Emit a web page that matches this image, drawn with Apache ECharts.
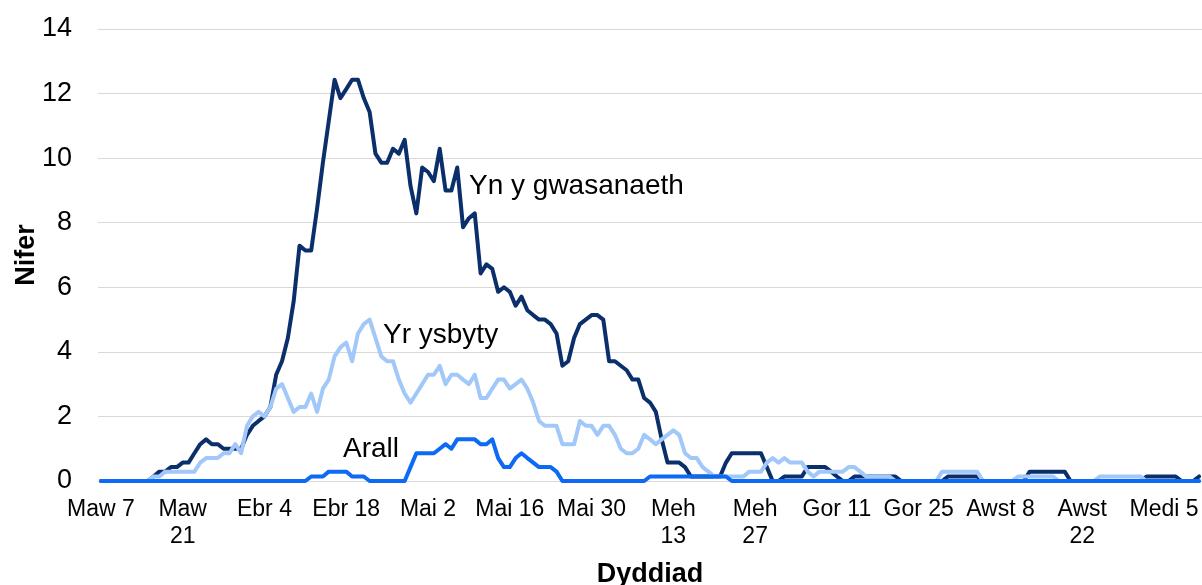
<!DOCTYPE html>
<html>
<head>
<meta charset="utf-8">
<script src="https://cdn.jsdelivr.net/npm/echarts@6/dist/echarts.min.js"></script>
<style>
  html, body { margin: 0; padding: 0; background: #fff; }
  #chart { width: 1202px; height: 585px; }
</style>
</head>
<body>
<div id="chart"></div>
<script>
// Welsh month names for the daily categories (starting Maw 7, 189 days)
const months = ['Ion', 'Chwe', 'Maw', 'Ebr', 'Mai', 'Meh', 'Gor', 'Awst', 'Medi', 'Hyd', 'Tach', 'Rhag'];
const startDate = new Date(2020, 2, 7);
const dayCount = 189;

// labels shown every 14 days
const tickLabels = ['Maw 7', 'Maw\n21', 'Ebr 4', 'Ebr 18', 'Mai 2', 'Mai 16', 'Mai 30',
  'Meh\n13', 'Meh\n27', 'Gor 11', 'Gor 25', 'Awst 8', 'Awst\n22', 'Medi 5'];

// Yn y gwasanaeth
const inService = [
  0, 0, 0, 0, 0, 0, 0, 0, 0, 0.14,
  0.29, 0.29, 0.43, 0.43, 0.57, 0.57, 0.86, 1.14, 1.29, 1.14,
  1.14, 1.0, 1.0, 1.0, 1.0, 1.43, 1.71, 1.86, 2.0, 2.29,
  3.29, 3.71, 4.43, 5.57, 7.29, 7.14, 7.14, 8.43, 9.86, 11.14,
  12.43, 11.86, 12.14, 12.43, 12.43, 11.86, 11.43, 10.14, 9.86, 9.86,
  10.29, 10.14, 10.57, 9.14, 8.29, 9.71, 9.57, 9.29, 10.29, 9.0,
  9.0, 9.71, 7.86, 8.14, 8.29, 6.43, 6.71, 6.57, 5.86, 6.0,
  5.86, 5.43, 5.71, 5.29, 5.14, 5.0, 5.0, 4.86, 4.57, 3.57,
  3.71, 4.43, 4.86, 5.0, 5.14, 5.14, 5.0, 3.71, 3.71, 3.57,
  3.43, 3.14, 3.14, 2.57, 2.43, 2.14, 1.29, 0.57, 0.57, 0.57,
  0.43, 0.14, 0.14, 0.14, 0.14, 0.14, 0.14, 0.57, 0.86, 0.86,
  0.86, 0.86, 0.86, 0.86, 0.43, 0, 0, 0.14, 0.14, 0.14,
  0.14, 0.43, 0.43, 0.43, 0.43, 0.29, 0.14, 0, 0, 0.14,
  0.14, 0.14, 0.14, 0.14, 0.14, 0.14, 0.14, 0, 0, 0,
  0, 0, 0, 0, 0, 0.14, 0.14, 0.14, 0.14, 0.14,
  0.14, 0, 0, 0, 0, 0, 0, 0, 0, 0.29,
  0.29, 0.29, 0.29, 0.29, 0.29, 0.29, 0, 0, 0, 0,
  0, 0, 0, 0, 0, 0, 0, 0, 0, 0.14,
  0.14, 0.14, 0.14, 0.14, 0.14, 0, 0, 0, 0.14
];

// Yr ysbyty
const hospital = [
  0, 0, 0, 0, 0, 0, 0, 0, 0, 0.14,
  0.14, 0.29, 0.29, 0.29, 0.29, 0.29, 0.29, 0.57, 0.71, 0.71,
  0.71, 0.86, 0.86, 1.14, 0.86, 1.71, 2.0, 2.14, 2.0, 2.29,
  2.86, 3.0, 2.57, 2.14, 2.29, 2.29, 2.71, 2.14, 2.86, 3.14,
  3.86, 4.14, 4.29, 3.71, 4.57, 4.86, 5.0, 4.43, 3.86, 3.71,
  3.71, 3.14, 2.71, 2.43, 2.71, 3.0, 3.29, 3.29, 3.57, 3.0,
  3.29, 3.29, 3.14, 3.0, 3.29, 2.57, 2.57, 2.86, 3.14, 3.14,
  2.86, 3.0, 3.14, 2.86, 2.43, 1.86, 1.71, 1.71, 1.71, 1.14,
  1.14, 1.14, 1.86, 1.71, 1.71, 1.43, 1.71, 1.71, 1.43, 1.0,
  0.86, 0.86, 1.0, 1.43, 1.29, 1.14, 1.29, 1.43, 1.57, 1.43,
  0.86, 0.71, 0.71, 0.43, 0.29, 0.14, 0.14, 0.14, 0.14, 0.14,
  0.14, 0.29, 0.29, 0.29, 0.57, 0.71, 0.57, 0.71, 0.57, 0.57,
  0.57, 0.29, 0.14, 0.29, 0.29, 0.29, 0.29, 0.29, 0.43, 0.43,
  0.29, 0.14, 0.14, 0.14, 0.14, 0.14, 0, 0, 0, 0,
  0, 0, 0, 0, 0.29, 0.29, 0.29, 0.29, 0.29, 0.29,
  0.29, 0, 0, 0, 0, 0, 0, 0.14, 0.14, 0.14,
  0.14, 0.14, 0.14, 0.14, 0, 0, 0, 0, 0, 0,
  0, 0.14, 0.14, 0.14, 0.14, 0.14, 0.14, 0.14, 0.14, 0,
  0, 0, 0, 0, 0, 0, 0, 0, 0
];

// Arall
const other = [
  0, 0, 0, 0, 0, 0, 0, 0, 0, 0,
  0, 0, 0, 0, 0, 0, 0, 0, 0, 0,
  0, 0, 0, 0, 0, 0, 0, 0, 0, 0,
  0, 0, 0, 0, 0, 0, 0.14, 0.14, 0.14, 0.29,
  0.29, 0.29, 0.29, 0.14, 0.14, 0.14, 0, 0, 0, 0,
  0, 0, 0, 0.43, 0.86, 0.86, 0.86, 0.86, 1.0, 1.14,
  1.0, 1.29, 1.29, 1.29, 1.29, 1.14, 1.14, 1.29, 0.71, 0.43,
  0.43, 0.71, 0.86, 0.71, 0.57, 0.43, 0.43, 0.43, 0.29, 0,
  0, 0, 0, 0, 0, 0, 0, 0, 0, 0,
  0, 0, 0, 0, 0.14, 0.14, 0.14, 0.14, 0.14, 0.14,
  0.14, 0.14, 0.14, 0.14, 0.14, 0.14, 0.14, 0.14, 0, 0,
  0, 0, 0, 0, 0, 0, 0, 0, 0, 0,
  0, 0, 0, 0, 0, 0, 0, 0, 0, 0,
  0, 0, 0, 0, 0, 0, 0, 0, 0, 0,
  0, 0, 0, 0, 0, 0, 0, 0, 0, 0,
  0, 0, 0, 0, 0, 0, 0, 0, 0, 0,
  0, 0, 0, 0, 0, 0, 0, 0, 0, 0,
  0, 0, 0, 0, 0, 0, 0, 0, 0, 0,
  0, 0, 0, 0, 0, 0, 0, 0, 0
];

let days = [];
for (let i = 0; i < dayCount; i++) {
  let d = new Date(startDate.getTime());
  d.setDate(d.getDate() + i);
  days.push(months[d.getMonth()] + ' ' + d.getDate());
}

const font = 'Liberation Sans, Arial, sans-serif';

var myChart = echarts.init(document.getElementById('chart'));

let option = {
  animation: false,
  backgroundColor: '#fff',
  textStyle: { fontFamily: font, color: '#000' },
  grid: { left: 98, right: 0, top: 29, bottom: 104, containLabel: false, outerBoundsMode: 'none' },
  xAxis: {
    type: 'category',
    data: days,
    boundaryGap: true,
    name: 'Dyddiad',
    nameLocation: 'middle',
    nameGap: 80,
    nameTextStyle: { fontFamily: font, fontSize: 27, fontWeight: 'bold', color: '#000' },
    axisLine: { lineStyle: { color: '#d9d9d9', width: 1 } },
    axisTick: { show: false },
    axisLabel: {
      interval: 13,
      margin: 15,
      fontFamily: font,
      fontSize: 23,
      lineHeight: 27,
      color: '#000',
      formatter: (v, i) => tickLabels[Math.round(i / 14)]
    }
  },
  yAxis: {
    type: 'value',
    min: 0,
    max: 14,
    interval: 2,
    name: 'Nifer',
    nameLocation: 'middle',
    nameGap: 58,
    nameMoveOverlap: false,
    nameTextStyle: { fontFamily: font, fontSize: 27, fontWeight: 'bold', color: '#000' },
    axisLine: { show: false },
    axisTick: { show: false },
    axisLabel: { margin: 26, fontFamily: font, fontSize: 27, color: '#000' },
    splitLine: { lineStyle: { color: '#d9d9d9', width: 1 } }
  },
  graphic: [
    { type: 'text', left: 469, top: 172, style: { text: 'Yn y gwasanaeth', fontFamily: font, fontSize: 28, fill: '#000' } },
    { type: 'text', left: 383, top: 321, style: { text: 'Yr ysbyty', fontFamily: font, fontSize: 28, fill: '#000' } },
    { type: 'text', left: 343, top: 435, style: { text: 'Arall', fontFamily: font, fontSize: 28, fill: '#000' } }
  ],
  series: [
    {
      name: 'Yn y gwasanaeth',
      type: 'line',
      data: inService,
      showSymbol: false,
      lineStyle: { color: '#0a2f6b', width: 4, cap: 'round', join: 'round' }
    },
    {
      name: 'Yr ysbyty',
      type: 'line',
      data: hospital,
      showSymbol: false,
      lineStyle: { color: '#a2c8fa', width: 4, cap: 'round', join: 'round' }
    },
    {
      name: 'Arall',
      type: 'line',
      data: other,
      showSymbol: false,
      lineStyle: { color: '#0d6af5', width: 4, cap: 'round', join: 'round' }
    }
  ]
};

option && myChart.setOption(option);
</script>
</body>
</html>
